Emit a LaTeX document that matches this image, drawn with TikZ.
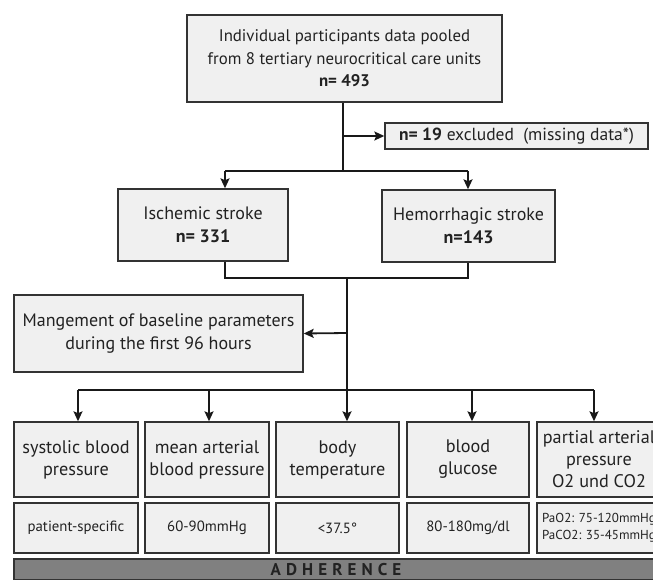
\documentclass[tikz,border=0pt]{standalone}
\usepackage{fontspec}
\setmainfont{PT Sans}
\usetikzlibrary{arrows.meta,calc}
\definecolor{boxfill}{HTML}{F0F0F0}
\definecolor{boxline}{HTML}{333333}
\definecolor{txt}{HTML}{222222}
\definecolor{barfill}{HTML}{808080}
\begin{document}
\begin{tikzpicture}[x=1pt,y=-1pt,
  box/.style={draw=boxline,fill=boxfill,line width=1.4pt,inner sep=0pt,align=center,text=txt,font=\fontsize{18}{23}\selectfont},
  rowa/.style={box,minimum height=75pt,font=\fontsize{18.2}{22}\selectfont},
  rowb/.style={box,minimum height=50pt,font=\fontsize{14.8}{17}\selectfont},
  conn/.style={line width=1.8pt,draw=black!90},
  arr/.style={conn,-{Stealth[length=10pt,width=9pt,inset=2pt]}}]
\useasboundingbox (0,0) rectangle (653,580);
\clip (0,0) rectangle (653,580);
% nodes
\node[box,minimum width=315pt,minimum height=87pt,font=\fontsize{16.8}{22.5}\selectfont] (top) at (344.5,58.5)
  {Individual participants data pooled\\from 8 tertiary neurocritical care units\\\textbf{n= 493}};
\node[box,minimum width=263pt,minimum height=26pt,font=\fontsize{17.5}{20}\selectfont] (excl) at (516.5,136)
  {\textbf{n= 19} excluded\ \ (missing data*)};
\node[box,minimum width=170pt,minimum height=72pt] (isch) at (203,225)
  {Ischemic stroke\\\textbf{n= 331}};
\node[box,minimum width=173pt,minimum height=72pt] (hemo) at (468.5,226)
  {Hemorrhagic stroke\\\textbf{n=143}};
\node[box,minimum width=289pt,minimum height=77pt] (mgmt) at (158.5,333.5)
  {Mangement of baseline parameters\\during the first 96 hours};
% row 1
\node[rowa,minimum width=124pt] (sbp) at (76,459.5) {systolic blood\\pressure};
\node[rowa,minimum width=124pt] (map) at (207,459.5) {mean arterial\\blood pressure};
\node[rowa,minimum width=123pt] (temp) at (337.5,459.5) {body\\temperature};
\node[rowa,minimum width=122pt] (gluc) at (468,459.5) {blood\\glucose};
\node[rowa,minimum width=124pt] (gas) at (599,459.5) {partial arterial\\pressure\\O2 und CO2};
% row 2
\node[rowb,minimum width=124pt] (sbpv) at (76,528) {patient-specific};
\node[rowb,minimum width=124pt] (mapv) at (207,528) {60-90mmHg};
\node[rowb,minimum width=123pt] (tempv) at (337.5,528) {<37.5°};
\node[rowb,minimum width=122pt] (glucv) at (468,528) {80-180mg/dl};
\node[rowb,minimum width=124pt,font=\fontsize{13}{17}\selectfont] (gasv) at (599,528) {PaO2: 75-120mmHg\\PaCO2: 35-45mmHg};
% adherence bar
\node[draw=boxline,fill=barfill,line width=1.4pt,minimum width=644pt,minimum height=21pt,inner sep=0pt,
  text=txt,font=\fontsize{17}{18}\selectfont\bfseries\addfontfeature{LetterSpace=30}] (adh) at (336,569.5) {ADHERENCE};
% coordinates
\coordinate (t1) at (343,171);
\coordinate (tx) at (343,136);
\coordinate (tl) at (225,171);
\coordinate (tr) at (468,171);
\coordinate (b1) at (225,278);
\coordinate (b2) at (468,278);
\coordinate (m0) at (347,278);
\coordinate (m1) at (347,333);
\coordinate (m2) at (347,390);
\coordinate (r1) at (78,390);
\coordinate (r2) at (209,390);
\coordinate (r3) at (347,390);
\coordinate (r4) at (472,390);
\coordinate (r5) at (594,390);
% connectors
\draw[conn] (top.south -| t1) -- (t1);
\draw[arr] (tx) -- (excl.west);
\draw[conn] (tl) -- (tr);
\draw[arr] (tl) -- (tl |- isch.north);
\draw[arr] (tr) -- (tr |- hemo.north);
\draw[conn] (isch.south -| b1) -- (b1) -- (b2) -- (b2 |- hemo.south);
\draw[conn] (m0) -- (m2);
\draw[arr] (m1) -- (mgmt.east);
\draw[conn] (r1) -- (r5);
\draw[arr] (r1) -- (r1 |- sbp.north);
\draw[arr] (r2) -- (r2 |- map.north);
\draw[arr] (r3) -- (r3 |- temp.north);
\draw[arr] (r4) -- (r4 |- gluc.north);
\draw[arr] (r5) -- (r5 |- gas.north);
\end{tikzpicture}
\end{document}
